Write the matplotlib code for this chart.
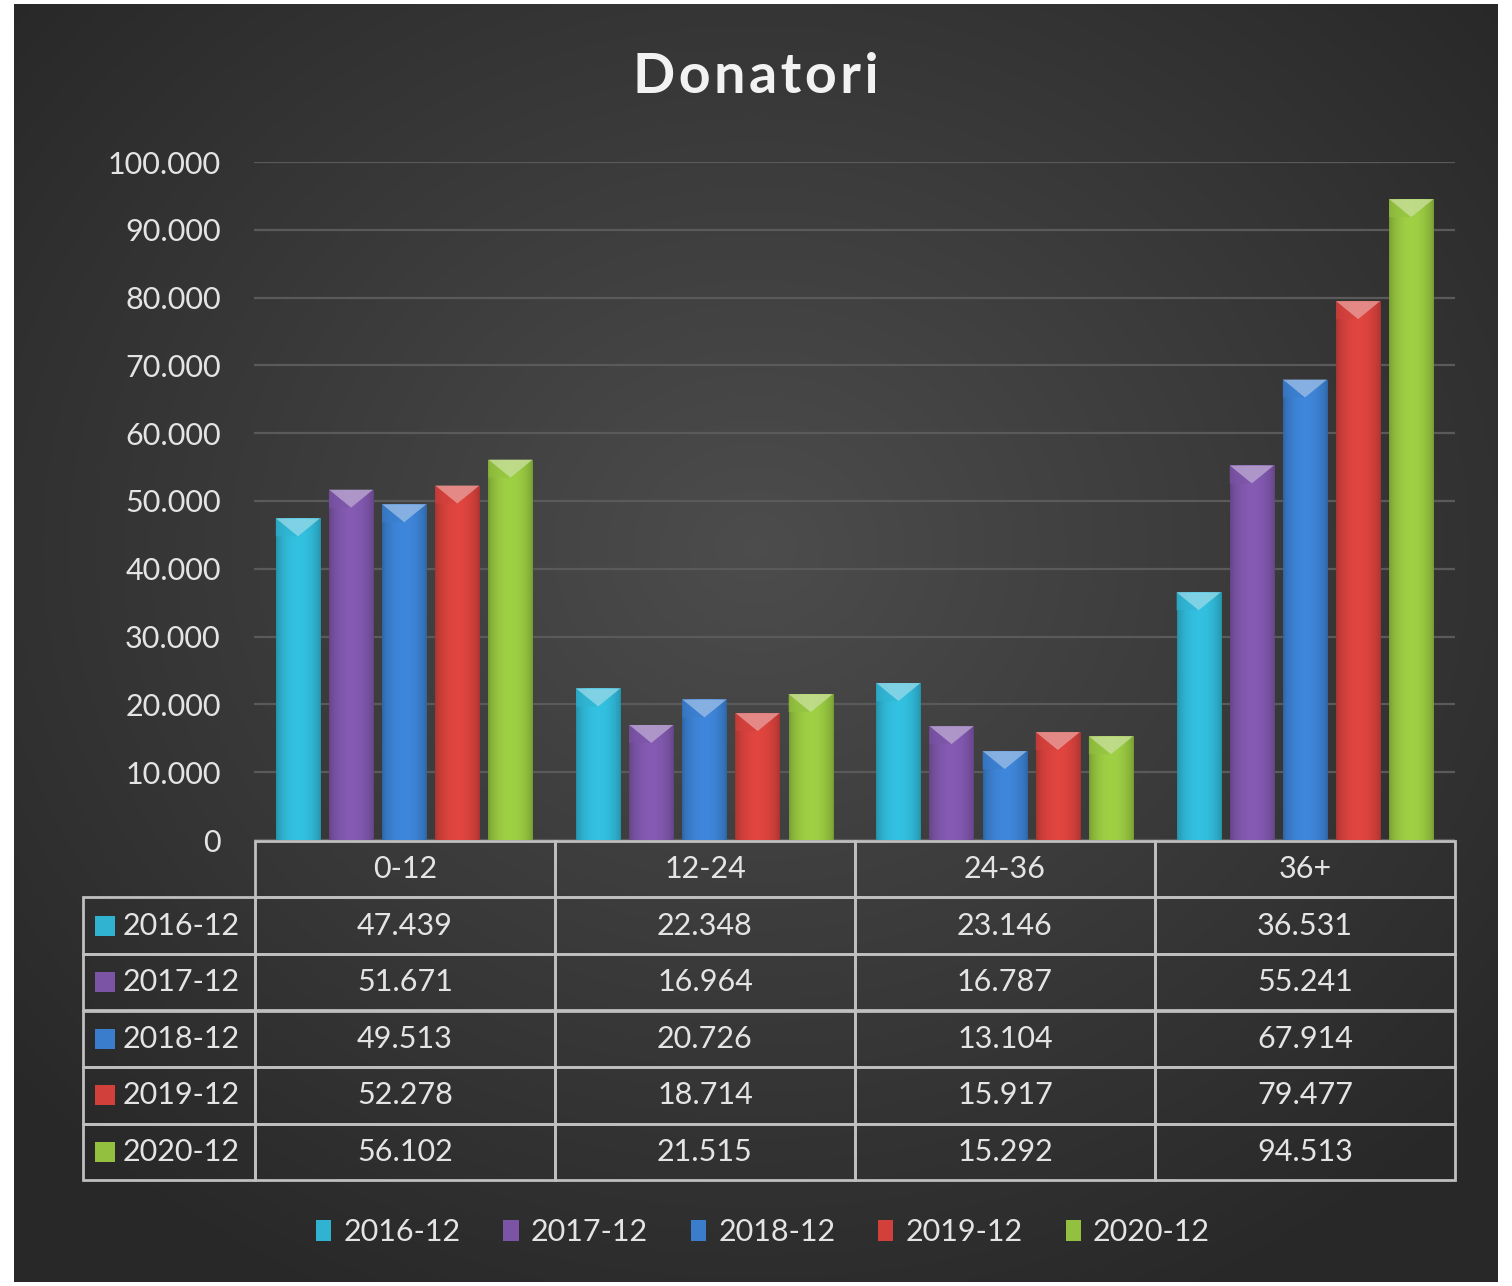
import numpy as np
import matplotlib
matplotlib.use("Agg")
import matplotlib.pyplot as plt
from matplotlib.patches import Patch, Polygon
from matplotlib.colors import to_rgb

plt.rcParams['font.family'] = ['Lato', 'DejaVu Sans']

categories = ['0-12', '12-24', '24-36', '36+']
series = ['2016-12', '2017-12', '2018-12', '2019-12', '2020-12']
v2016 = [47439, 22348, 23146, 36531]
v2017 = [51671, 16964, 16787, 55241]
v2018 = [49513, 20726, 13104, 67914]
v2019 = [52278, 18714, 15917, 79477]
v2020 = [56102, 21515, 15292, 94513]
values = [v2016, v2017, v2018, v2019, v2020]
colors = ['#2fb3d1', '#7b54a6', '#3a7dcc', '#d1403b', '#93c13f']
yticks = [0, 10000, 20000, 30000, 40000, 50000, 60000, 70000, 80000, 90000, 100000]

TXT = '#e4e4e4'
LINE = '#bfbfbf'


def fmt(v):
    return '{:,}'.format(v).replace(',', '.')


W, H = 1512, 1286
fig = plt.figure(figsize=(W / 100, H / 100), dpi=100, facecolor='white')

# dark radial background
bg = fig.add_axes([14 / W, 4 / H, (1498 - 14) / W, (1282 - 4) / H])
bg.set_axis_off()
gx, gy = np.meshgrid(np.linspace(-1, 1, 300), np.linspace(-1, 1, 300))
r = np.sqrt(gx ** 2 + (gy + 0.15) ** 2)
shade = 0.30 - 0.14 * np.clip(r / 1.3, 0, 1)
bg.imshow(np.dstack([shade] * 3), extent=[0, 1, 0, 1], aspect='auto', interpolation='bicubic')

# plot area
left, right, top, bottom = 254, 1455, 162, 840
ax = fig.add_axes([left / W, 1 - bottom / H, (right - left) / W, (bottom - top) / H])
ax.set_facecolor('none')
for s in ax.spines.values():
    s.set_visible(False)

x = np.arange(len(categories))
bw = 0.147
step = 0.177
px_per_unit = (bottom - top) / 100000.0
bev = 18 / px_per_unit

for i, (name, vals, col) in enumerate(zip(series, values, colors)):
    base = np.array(to_rgb(col))
    bars = ax.bar(x + (i - 2) * step, vals, width=bw, color=col, zorder=3, linewidth=0)
    light = base + (1 - base) * 0.45
    for b in bars:
        x0, w, h = b.get_x(), b.get_width(), b.get_height()
        # horizontal shading across the bar
        t = np.linspace(0, 1, 60)
        f = 0.80 + 0.28 * np.sin(np.pi * t) ** 0.6
        grad = np.clip(base[None, None, :] * f[None, :, None], 0, 1)
        im = ax.imshow(grad, extent=[x0, x0 + w, 0, h], aspect='auto', zorder=3.5,
                       interpolation='bilinear')
        im.set_clip_path(b)
        # bevel on top
        tri = Polygon([[x0, h], [x0 + w, h], [x0 + w / 2, h - bev]], closed=True,
                      facecolor=light, edgecolor='none', alpha=0.85, zorder=4)
        ax.add_patch(tri)
        side = Polygon([[x0, h], [x0 + w / 2, h - bev], [x0, h - bev]], closed=True,
                       facecolor=base, edgecolor='none', alpha=0.6, zorder=4)
        ax.add_patch(side)

ax.set_xlim(-0.5, len(categories) - 0.5)
ax.set_ylim(0, 100000)
ax.set_yticks(yticks)
ax.set_yticklabels([fmt(v) for v in yticks])
ax.set_xticks([])
ax.tick_params(axis='y', length=0, pad=24, labelsize=22, labelcolor=TXT)
ax.yaxis.grid(True, color='#5a5a5a', linewidth=1.6, zorder=0)
ax.set_axisbelow(True)

# data table under the bars; first column holds the series names
cell_text = [[s] + [fmt(v) for v in vals] for s, vals in zip(series, values)]
lab_w, col_w = 172, 300
widths = [lab_w] + [col_w] * len(categories)
tot_w = float(sum(widths))
tb_left = (83 - left) / (right - left)
tb_w = 1 - tb_left
tb_top = (bottom - 841) / (bottom - top)
tb_bot = (bottom - 1180) / (bottom - top)
tb_h = tb_top - tb_bot
table = ax.table(cellText=cell_text, colLabels=[''] + categories,
                 colWidths=[wd / tot_w for wd in widths], cellLoc='center',
                 bbox=[tb_left, tb_bot, tb_w, tb_h])
table.auto_set_font_size(False)
table.set_fontsize(22)
for (rr, cc), cell in table.get_celld().items():
    cell.set_facecolor('none')
    cell.set_edgecolor(LINE)
    cell.set_linewidth(2)
    cell.get_text().set_color(TXT)
    if cc == 0:
        cell.get_text().set_horizontalalignment('left')
        cell.PAD = 40 / lab_w
        if rr == 0:
            cell.visible_edges = ''

rowh = tb_h / (len(series) + 1)
mx = (105 - left) / (right - left)
for i, col in enumerate(colors):
    my = tb_top - (i + 1.5) * rowh
    ax.scatter([mx], [my], marker='s', s=200, color=col, transform=ax.transAxes,
               clip_on=False, zorder=6, linewidths=0)

# title
fig.text(756 / W, 1 - 77 / H, '\u200a'.join('Donatori'), ha='center', va='center',
         fontsize=40, fontweight='bold', color='#f2f2f2')

# legend
handles = [Patch(facecolor=c, edgecolor='none', label=s) for s, c in zip(series, colors)]
leg = fig.legend(handles=handles, loc='center', bbox_to_anchor=(763 / W, 1 - 1232 / H),
                 ncol=5, frameon=False, fontsize=22, handlelength=0.5, handleheight=0.7,
                 handletextpad=0.4, columnspacing=1.4)
for t in leg.get_texts():
    t.set_color(TXT)

fig.savefig('out.png', dpi=100, facecolor='white')
